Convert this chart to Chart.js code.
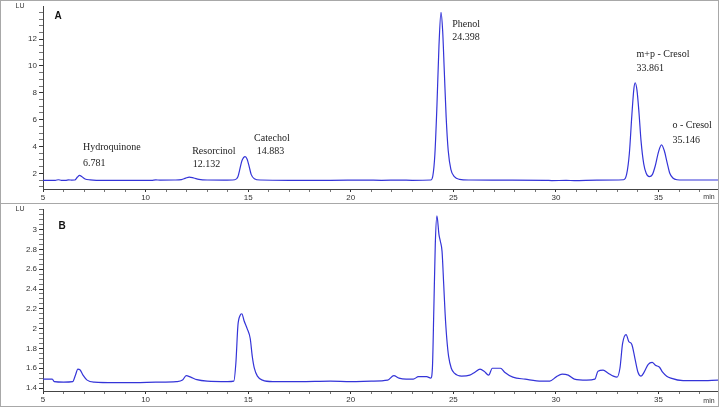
<!DOCTYPE html>
<html>
<head>
<meta charset="utf-8">
<script src="https://cdn.jsdelivr.net/npm/chart.js@4.4.1/dist/chart.umd.min.js"></script>
<style>
  body { margin: 0; background: #fff; }
  #wrap { position: relative; width: 720px; height: 407px; overflow: hidden; }
  canvas { position: absolute; left: 0; }
  #frameA, #frameB { position: absolute; left: 0; border: 1px solid #a8a8a8; box-sizing: border-box; pointer-events: none; }
  #frameA { top: 0; height: 204px; width: 719px; }
  #frameB { top: 203px; height: 204px; width: 719px; }
</style>
</head>
<body>
<div id="wrap">
  <canvas id="chartA" width="720" height="203" style="top:0"></canvas>
  <canvas id="chartB" width="720" height="204" style="top:203px"></canvas>
  <div id="frameA"></div>
  <div id="frameB"></div>
</div>
<script>
// chromatogram A (standards), time in min / signal in LU
var timeA = [5.0, 5.6, 5.75, 5.9, 6.1, 6.25, 6.4, 6.55, 6.68, 6.78, 6.9, 7.05, 7.3, 7.6, 8.5, 9.5, 10.3, 10.5, 10.7, 11.4,
  11.75, 11.95, 12.13, 12.35, 12.6, 13.0, 13.8, 14.35, 14.5, 14.6, 14.7, 14.85, 14.95, 15.05, 15.15, 15.3, 15.6, 17.0, 19.0, 20.7,
  21.5, 22.4, 23.0, 23.9, 24.0, 24.1, 24.2, 24.3, 24.398, 24.48, 24.56, 24.65, 24.75, 24.88, 25.05, 25.3, 25.8, 27.0, 29.5, 29.8,
  30.5, 30.9, 32.0, 33.3, 33.45, 33.58, 33.7, 33.8, 33.861, 33.95, 34.05, 34.15, 34.28, 34.4, 34.55, 34.7, 34.85, 35.0, 35.146, 35.28,
  35.42, 35.55, 35.7, 35.9, 36.2, 37.9]
var signalA = [1.48, 1.48, 1.52, 1.48, 1.48, 1.51, 1.49, 1.5, 1.72, 1.84, 1.74, 1.58, 1.51, 1.48, 1.47, 1.47, 1.48, 1.51, 1.49, 1.5,
  1.53, 1.64, 1.72, 1.65, 1.55, 1.5, 1.49, 1.52, 1.75, 2.35, 2.95, 3.25, 3.05, 2.5, 1.9, 1.6, 1.5, 1.48, 1.48, 1.49,
  1.48, 1.49, 1.48, 1.5, 1.8, 3.4, 7.0, 11.5, 14.0, 12.6, 9.6, 6.2, 3.7, 2.3, 1.75, 1.55, 1.5, 1.49, 1.48, 1.46,
  1.47, 1.46, 1.49, 1.52, 1.95, 3.5, 6.3, 8.3, 8.75, 8.2, 6.5, 4.4, 2.7, 2.0, 1.75, 1.9, 2.6, 3.6, 4.12, 3.7,
  2.8, 2.0, 1.65, 1.52, 1.5, 1.5]

// chromatogram B (sample)
var timeB = [5.0, 5.45, 5.55, 6.0, 6.45, 6.58, 6.7, 6.8, 6.95, 7.15, 7.5, 8.5, 9.5, 10.5, 11.5, 11.8, 11.98, 12.2, 12.5, 13.0,
  14.0, 14.3, 14.4, 14.5, 14.6, 14.69, 14.8, 14.95, 15.1, 15.2, 15.3, 15.45, 15.7, 16.2, 17.5, 19.0, 20.0, 21.0, 21.8, 22.1,
  22.35, 22.7, 23.05, 23.3, 23.7, 23.9, 23.98, 24.05, 24.12, 24.2, 24.3, 24.37, 24.45, 24.53, 24.6, 24.68, 24.77, 24.9, 25.05, 25.4,
  25.8, 26.05, 26.3, 26.5, 26.72, 26.9, 27.3, 27.5, 27.9, 28.5, 29.3, 29.7, 30.0, 30.3, 30.6, 30.9, 31.5, 31.9, 32.05, 32.3,
  32.55, 32.8, 32.98, 33.12, 33.25, 33.42, 33.55, 33.7, 33.85, 34.0, 34.15, 34.3, 34.5, 34.69, 34.85, 35.05, 35.2, 35.4, 35.6, 36.2,
  37.0, 37.9]
var signalB = [1.49, 1.49, 1.465, 1.46, 1.465, 1.53, 1.59, 1.585, 1.53, 1.48, 1.46, 1.455, 1.455, 1.46, 1.465, 1.48, 1.525, 1.51, 1.485, 1.47,
  1.465, 1.47, 1.65, 2.03, 2.13, 2.15, 2.08, 2.0, 1.9, 1.72, 1.6, 1.52, 1.48, 1.465, 1.465, 1.47, 1.465, 1.47, 1.48, 1.525,
  1.5, 1.49, 1.49, 1.515, 1.515, 1.5, 1.6, 2.2, 2.85, 3.14, 2.95, 2.88, 2.78, 2.45, 2.15, 1.9, 1.72, 1.6, 1.55, 1.52,
  1.53, 1.56, 1.59, 1.57, 1.53, 1.6, 1.6, 1.56, 1.51, 1.49, 1.47, 1.47, 1.51, 1.54, 1.53, 1.49, 1.48, 1.49, 1.57, 1.58,
  1.55, 1.52, 1.51, 1.6, 1.85, 1.94, 1.87, 1.84, 1.7, 1.56, 1.52, 1.56, 1.64, 1.66, 1.63, 1.61, 1.56, 1.52, 1.5, 1.475,
  1.475, 1.48]

// peak names and retention times shown on A
var peakNames = ['Hydroquinone', 'Resorcinol', 'Catechol', 'Phenol', 'm+p - Cresol', 'o - Cresol']
var peakTimes = ['6.781', '12.132', '14.883', '24.398', '33.861', '35.146']
// where each name / time sits (data coords)
var nameAt = [[6.95, 3.9], [12.27, 3.6], [15.29, 4.63], [24.95, 13.1], [33.93, 10.9], [35.68, 5.58]]
var timeAt = [[6.95, 2.73], [12.3, 2.66], [15.42, 3.6], [24.95, 12.15], [33.93, 9.8], [35.68, 4.48]]

var lineColor = '#3434d8'
var tickFont = { family: 'Liberation Sans', size: 8 }

function toPoints(xs, ys) {
    return xs.map(function (t, i) { return { x: t, y: ys[i] } })
}

// text drawn on top: panel letter, LU, min, peak labels
function textPlugin(letter, letterPos, withPeaks) {
    return {
        id: 'text' + letter,
        afterDraw: function (chart) {
            var ctx = chart.ctx
            var xs = chart.scales.x, ys = chart.scales.y
            ctx.save()
            ctx.fillStyle = '#333'
            ctx.font = '7px "Liberation Sans"'
            ctx.textAlign = 'center'
            ctx.textBaseline = 'middle'
            ctx.fillText('LU', 20, 6)
            ctx.fillText('min', xs.right - 9, xs.bottom - 6)
            ctx.fillStyle = '#111'
            ctx.font = 'bold 10px "Liberation Sans"'
            ctx.fillText(letter, letterPos[0], letterPos[1])
            if (withPeaks) {
                ctx.textAlign = 'left'
                ctx.fillStyle = '#222'
                ctx.font = '10px "Liberation Serif"'
                for (var i = 0; i < peakNames.length; i++) {
                    ctx.fillText(peakNames[i], xs.getPixelForValue(nameAt[i][0]), ys.getPixelForValue(nameAt[i][1]))
                    ctx.fillText(peakTimes[i], xs.getPixelForValue(timeAt[i][0]), ys.getPixelForValue(timeAt[i][1]))
                }
            }
            ctx.restore()
        }
    }
}

function makeChart(id, xs, ys, yMin, yMax, yStep, isMajor, fmt, xHeight, letter, letterPos, withPeaks) {
    return new Chart(document.getElementById(id), {
        type: 'line',
        data: {
            datasets: [{
                data: toPoints(xs, ys),
                borderColor: lineColor,
                borderWidth: 1.2,
                pointRadius: 0,
                fill: false,
                cubicInterpolationMode: 'monotone'
            }]
        },
        options: {
            responsive: false,
            animation: false,
            devicePixelRatio: 1,
            layout: { padding: { top: 3, right: 2, left: 0, bottom: 0 } },
            plugins: { legend: { display: false }, tooltip: { enabled: false } },
            scales: {
                x: {
                    type: 'linear',
                    min: 5,
                    max: 37.9,
                    border: { color: '#444', width: 1 },
                    grid: {
                        drawOnChartArea: false, tickLength: 3, color: '#444',
                        tickColor: function (c) { return c.tick && c.tick.value % 5 === 0 ? '#333' : '#777' }
                    },
                    ticks: {
                        stepSize: 1, autoSkip: false, includeBounds: false, maxRotation: 0,
                        padding: 1, color: '#333', font: tickFont,
                        callback: function (v) { return v % 5 === 0 ? String(v) : '' }
                    },
                    afterFit: function (s) { s.height = xHeight }
                },
                y: {
                    min: yMin,
                    max: yMax,
                    border: { color: '#444', width: 1 },
                    grid: {
                        drawOnChartArea: false, tickLength: 4, color: '#444',
                        tickColor: function (c) { return c.tick && isMajor(c.tick.value) ? '#333' : '#777' }
                    },
                    ticks: {
                        stepSize: yStep, autoSkip: false, includeBounds: false,
                        padding: 2, color: '#333', font: tickFont,
                        callback: function (v) { return isMajor(v) ? fmt(v) : '' }
                    },
                    afterFit: function (s) { s.width = 43 }
                }
            }
        },
        plugins: [textPlugin(letter, letterPos, withPeaks)]
    })
}

makeChart('chartA', timeA, signalA, 0.83, 14.41, 0.5,
    function (v) { return v % 2 === 0 && v <= 12 },
    function (v) { return String(v) }, 14, 'A', [58, 16], true)

makeChart('chartB', timeB, signalB, 1.37, 3.2, 0.05,
    function (v) { return Math.abs(v * 5 - Math.round(v * 5)) < 1e-6 && v < 3.05 },
    function (v) { return String(Math.round(v * 10) / 10) }, 16, 'B', [62, 23], false)
</script>
</body>
</html>
